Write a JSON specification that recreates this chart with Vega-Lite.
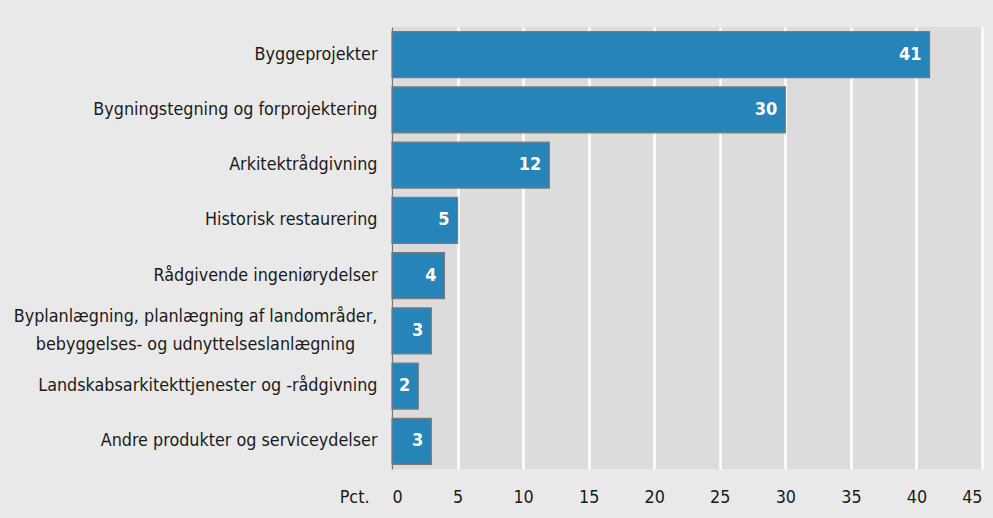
{
  "$schema": "https://vega.github.io/schema/vega-lite/v6.json",
  "width": 590,
  "height": 442,
  "autosize": {"type": "none"},
  "padding": {"left": 392, "top": 27, "right": 11, "bottom": 49},
  "background": "#e9e9e9",
  "config": {
    "view": {"fill": "#dcdcdc", "stroke": null},
    "font": "DejaVu Sans Condensed, Roboto, sans-serif"
  },
  "data": {
    "values": [
      {"kategori": "Byggeprojekter", "pct": 41},
      {"kategori": "Bygningstegning og forprojektering", "pct": 30},
      {"kategori": "Arkitektrådgivning", "pct": 12},
      {"kategori": "Historisk restaurering", "pct": 5},
      {"kategori": "Rådgivende ingeniørydelser", "pct": 4},
      {"kategori": "Byplanlægning, planlægning af landområder,|bebyggelses- og udnyttelseslanlægning", "pct": 3},
      {"kategori": "Landskabsarkitekttjenester og -rådgivning", "pct": 2},
      {"kategori": "Andre produkter og serviceydelser", "pct": 3}
    ]
  },
  "encoding": {
    "y": {
      "field": "kategori",
      "type": "nominal",
      "sort": null,
      "scale": {"paddingInner": 0.17, "paddingOuter": 0.085},
      "axis": {
        "title": null,
        "labelExpr": "split(datum.label, '|')",
        "labelFontSize": 17.8,
        "labelColor": "#1a1a1a",
        "labelPadding": {"condition": {"test": "indexof(datum.value, '|') >= 0", "value": 197}, "value": 15},
        "labelAlign": {"condition": {"test": "indexof(datum.value, '|') >= 0", "value": "center"}, "value": "right"},
        "labelBaseline": "middle",
        "labelLineHeight": 28,
        "labelOffset": {"condition": {"test": "indexof(datum.value, '|') >= 0", "value": -14}, "value": 0},
        "labelLimit": 400,
        "ticks": false,
        "domainColor": "#777777",
        "domainWidth": 1.5,
        "grid": false
      }
    },
    "x": {
      "field": "pct",
      "type": "quantitative",
      "scale": {"domain": [0, 45], "nice": false},
      "axis": {
        "values": [0, 5, 10, 15, 20, 25, 30, 35, 40, 45],
        "title": "Pct.",
        "titleFontWeight": "normal",
        "titleFontSize": 17.8,
        "titleColor": "#1a1a1a",
        "titleAlign": "right",
        "titleBaseline": "top",
        "titleX": -23,
        "titleY": 19,
        "labelFontSize": 17.8,
        "labelColor": "#1a1a1a",
        "labelPadding": 19,
        "labelBaseline": "top",
        "ticks": false,
        "domain": false,
        "grid": true,
        "gridColor": "#ffffff",
        "gridWidth": 2.5
      }
    }
  },
  "layer": [
    {
      "mark": {"type": "bar", "color": "#2784b8", "stroke": "#7a7a7a", "strokeWidth": 1.2}
    },
    {
      "mark": {"type": "text", "align": "right", "dx": -8, "color": "white", "fontWeight": "bold", "fontSize": 18},
      "encoding": {"text": {"field": "pct", "type": "quantitative"}}
    }
  ]
}
